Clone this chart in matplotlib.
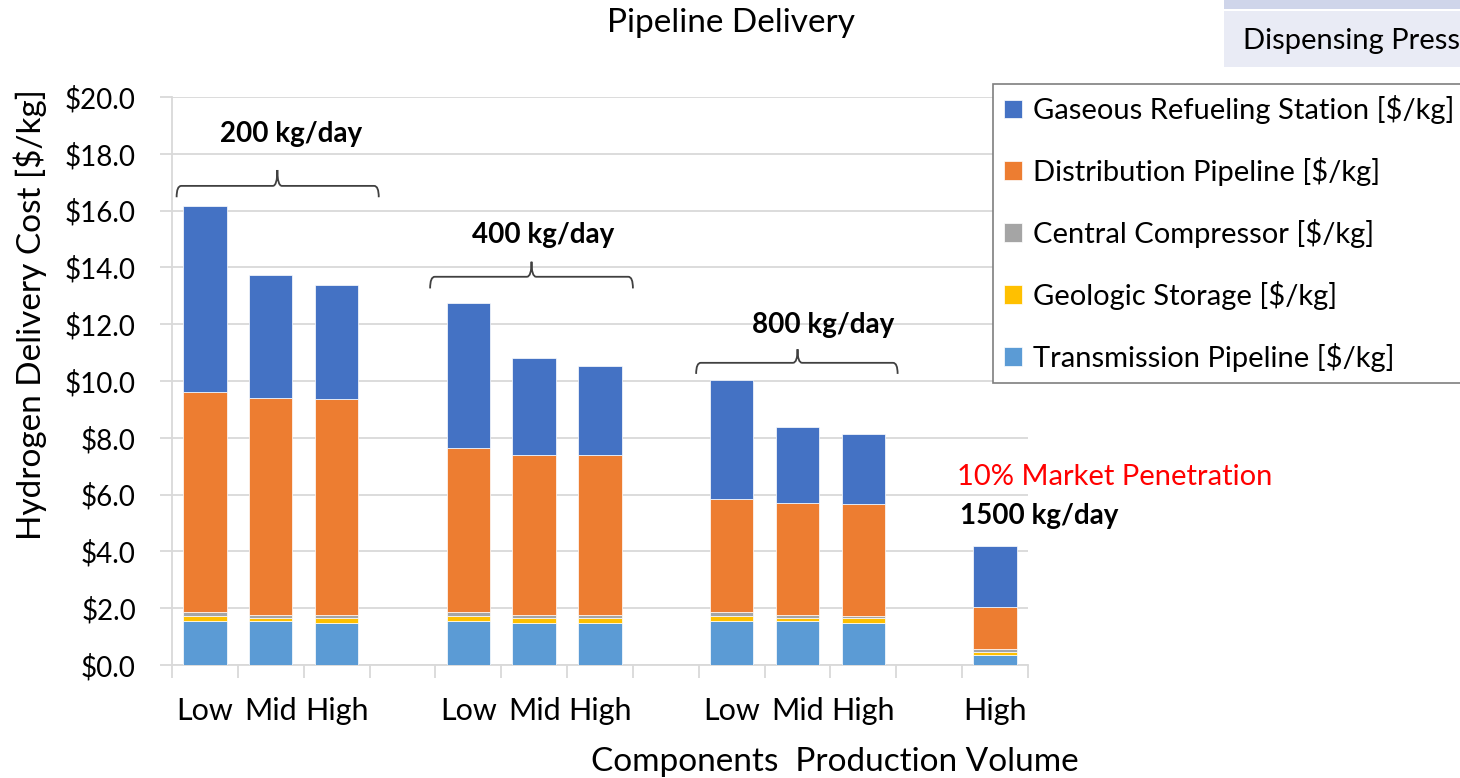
import numpy as np
import matplotlib
matplotlib.use("Agg")
import matplotlib.pyplot as plt
from matplotlib.path import Path
from matplotlib.patches import PathPatch, Rectangle

plt.rcParams['font.family'] = ['Lato', 'DejaVu Sans']

# categories along the x axis (blank slots separate the station sizes)
categories = ['Low', 'Mid', 'High', '', 'Low', 'Mid', 'High', '',
              'Low', 'Mid', 'High', '', 'High']
bar_slots = [0, 1, 2, 4, 5, 6, 8, 9, 10, 12]

# cost components [$/kg], stacked bottom to top
transmission = [1.55, 1.55, 1.49, 1.55, 1.49, 1.49, 1.55, 1.55, 1.49, 0.36]
geologic = [0.17, 0.12, 0.18, 0.17, 0.18, 0.18, 0.17, 0.12, 0.18, 0.11]
compressor = [0.13, 0.09, 0.09, 0.13, 0.09, 0.09, 0.13, 0.09, 0.05, 0.08]
distribution = [7.77, 7.63, 7.59, 5.78, 5.65, 5.65, 3.98, 3.96, 3.94, 1.49]
refueling = [6.55, 4.33, 4.02, 5.10, 3.39, 3.12, 4.21, 2.65, 2.47, 2.15]

series = [
    ('Transmission Pipeline [$/kg]', transmission, '#5B9BD5'),
    ('Geologic Storage [$/kg]', geologic, '#FFC000'),
    ('Central Compressor [$/kg]', compressor, '#A5A5A5'),
    ('Distribution Pipeline [$/kg]', distribution, '#ED7D31'),
    ('Gaseous Refueling Station [$/kg]', refueling, '#4472C4'),
]

W, H = 1460, 778
fig = plt.figure(figsize=(W / 100, H / 100), dpi=100)
ax = fig.add_axes([172 / W, 1 - 665 / H, (1028 - 172) / W, (665 - 97) / H])

grid_c = '#D9D9D9'
handles = []
bottom = np.zeros(len(bar_slots))
for name, vals, col in series:
    vals = np.array(vals)
    b = ax.bar(bar_slots, vals, width=0.66, bottom=bottom, color=col,
               edgecolor='#FFFFFF', linewidth=0.5, label=name, zorder=3)
    handles.append(b)
    bottom += vals

ax.set_xlim(-0.5, len(categories) - 0.5)
ax.set_ylim(0, 20)
ax.set_yticks(np.arange(0, 20.1, 2))
ax.set_yticklabels([f'${v:.1f}' for v in np.arange(0, 20.1, 2)], fontsize=20)
ax.yaxis.grid(True, color=grid_c, lw=1.3, zorder=0)
ax.tick_params(axis='y', length=9, width=1.3, color=grid_c, pad=17)

# category boundaries get the tick marks, centres get the labels
ax.set_xticks(np.arange(-0.5, len(categories), 1.0))
ax.set_xticklabels([])
ax.set_xticks(np.arange(len(categories)), minor=True)
ax.set_xticklabels(categories, minor=True, fontsize=22)
ax.tick_params(axis='x', which='major', length=9.5, width=1.3, color=grid_c)
ax.tick_params(axis='x', which='minor', length=0, pad=23)

for s in ['top', 'right']:
    ax.spines[s].set_visible(False)
for s in ['left', 'bottom']:
    ax.spines[s].set_color(grid_c)
    ax.spines[s].set_linewidth(1.3)


def brace(x0, x1, xc, y, drop, tip):
    dx, dy = 0.07, drop
    verts = [(x0, y - dy), (x0, y), (x0 + dx, y),
             (xc - dx, y), (xc, y), (xc, y + tip),
             (xc, y), (xc + dx, y),
             (x1 - dx, y), (x1, y), (x1, y - dy)]
    codes = [Path.MOVETO, Path.CURVE3, Path.CURVE3,
             Path.LINETO, Path.CURVE3, Path.CURVE3,
             Path.CURVE3, Path.CURVE3,
             Path.LINETO, Path.CURVE3, Path.CURVE3]
    ax.add_patch(PathPatch(Path(verts, codes), fill=False, ec='#404040',
                           lw=1.3, zorder=4, clip_on=False))


brace(-0.43, 2.64, 1.10, 16.87, 0.40, 0.56)
brace(3.42, 6.50, 4.96, 13.67, 0.41, 0.53)
brace(7.46, 10.52, 9.00, 10.64, 0.39, 0.48)

bold = dict(fontsize=20, fontweight='bold', ha='center', va='center', zorder=5)
ax.text(1.31, 18.70, '200 kg/day', **bold)
ax.text(5.13, 15.14, '400 kg/day', **bold)
ax.text(9.39, 11.97, '800 kg/day', **bold)
ax.text(11.47, 5.25, '1500 kg/day', fontsize=20, fontweight='bold',
        ha='left', va='center', clip_on=False)
ax.text(13.81, 6.62, '10% Market Penetration', fontsize=21, color='#FF0000',
        ha='center', va='center', clip_on=False)

fig.text(731 / W, 1 - 23 / H, 'Pipeline Delivery', fontsize=24,
         ha='center', va='center')
fig.text(30 / W, 1 - 315 / H, 'Hydrogen Delivery Cost [$/kg]', fontsize=24,
         rotation=90, ha='center', va='center')
fig.text(835 / W, 1 - 762 / H, 'Components  Production Volume', fontsize=24,
         ha='center', va='center')

# neighbouring table cell at the top right
fig.patches.append(Rectangle((1224 / W, 1 - 9 / H), (W - 1224) / W, 9 / H,
                             transform=fig.transFigure, color='#CFD5EA', lw=0))
fig.patches.append(Rectangle((1224 / W, 1 - 67 / H), (W - 1224) / W, 56 / H,
                             transform=fig.transFigure, color='#E9EBF5', lw=0))
fig.text(1243 / W, 1 - 41 / H, 'Dispensing Press', fontsize=21,
         ha='left', va='center')

leg = fig.legend(handles[::-1], [s[0] for s in series][::-1],
                 loc='upper left', bbox_to_anchor=(993 / W, 1 - 84 / H),
                 fontsize=21, frameon=True, fancybox=False, framealpha=1,
                 edgecolor='#7F7F7F', handlelength=0.6, handleheight=0.6,
                 handletextpad=0.4, labelspacing=1.13, borderpad=0.38,
                 borderaxespad=0)
leg.get_frame().set_linewidth(1.2)

fig.savefig('out.png', dpi=100)
